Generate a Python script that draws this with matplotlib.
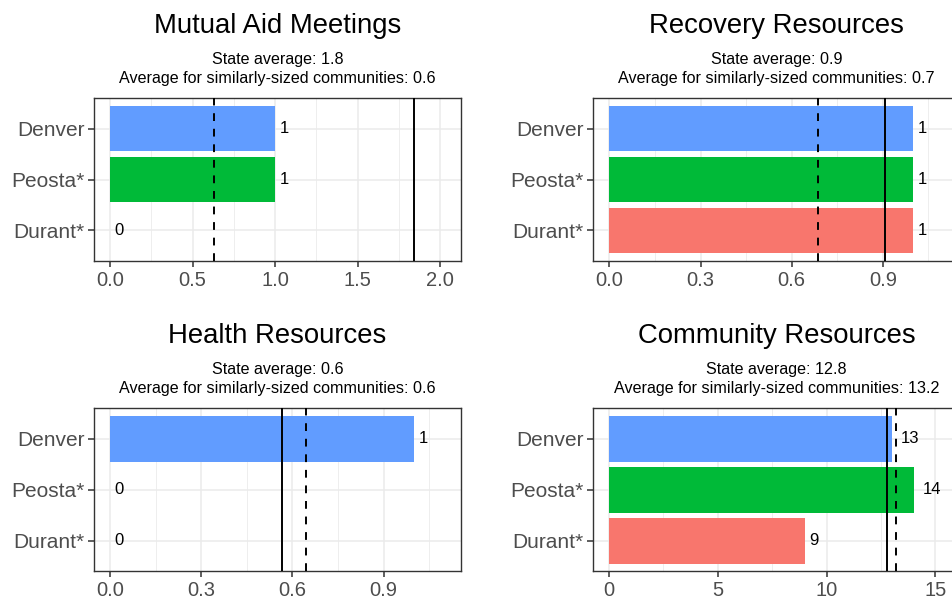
import matplotlib
matplotlib.use("Agg")
import matplotlib.pyplot as plt
from matplotlib.ticker import MultipleLocator

plt.rcParams['font.family'] = ['Liberation Sans', 'DejaVu Sans']

# ---- data ----
communities = ["Denver", "Peosta*", "Durant*"]
colors = ["#619CFF", "#00BA38", "#F8766D"]

titles = ["Mutual Aid Meetings", "Recovery Resources", "Health Resources", "Community Resources"]
mutual_aid = [1, 1, 0]
recovery = [1, 1, 1]
health = [1, 0, 0]
community = [13, 14, 9]
values = [mutual_aid, recovery, health, community]

state_avg = [1.84, 0.907, 0.565, 12.79]
similar_avg = [0.628, 0.688, 0.645, 13.2]

x_major = [0.5, 0.3, 0.3, 5]
x_limits = [(-0.097, 2.127), (-0.053, 1.155), (-0.053, 1.155), (-0.72, 16.15)]
x_fmt = ["{:.1f}", "{:.1f}", "{:.1f}", "{:.0f}"]

# ---- layout ----
W, H = 953, 602
fig = plt.figure(figsize=(W / 100, H / 100), dpi=100)

px = lambda v: v / W
py = lambda v: v / H
panel_w = 367
panel_h = 163
lefts = [94, 593.3, 94, 593.3]
tops = [98, 98, 408.3, 408.3]

grid_c = "#EBEBEB"
border_c = "#333333"
PT = 0.72  # points per pixel at dpi 100

for i in range(4):
    l, t = lefts[i], tops[i]
    ax = fig.add_axes([px(l), 1 - py(t + panel_h), px(panel_w), py(panel_h)])
    n = len(communities)
    ypos = [n - 1 - k for k in range(n)]  # Denver at top
    ax.barh(ypos, values[i], height=0.9, color=colors, zorder=2)
    ax.set_ylim(-0.6, n - 1 + 0.6)
    ax.set_xlim(*x_limits[i])
    ax.xaxis.set_major_locator(MultipleLocator(x_major[i]))
    ax.xaxis.set_minor_locator(MultipleLocator(x_major[i] / 2))
    ticks = [v for v in ax.get_xticks() if x_limits[i][0] <= v <= x_limits[i][1]]
    ax.set_xticks(ticks)
    ax.set_xticklabels([x_fmt[i].format(v) for v in ticks])
    ax.set_yticks(ypos)
    ax.set_yticklabels(communities)
    ax.grid(True, which="major", color=grid_c, lw=1.1, zorder=0)
    ax.grid(True, which="minor", axis="x", color=grid_c, lw=0.6, zorder=0)
    ax.set_axisbelow(True)
    ax.tick_params(axis="both", which="major", labelsize=14.5, labelcolor="#4D4D4D",
                   color=border_c, length=4, width=1.1, pad=3)
    ax.tick_params(axis="x", which="minor", length=0)
    ax.tick_params(axis="y", labelsize=15)
    for s in ax.spines.values():
        s.set_color(border_c)
        s.set_linewidth(1.0)

    # reference lines
    ax.axvline(state_avg[i], color="black", lw=1.4, zorder=3)
    ax.axvline(similar_avg[i], color="black", lw=1.4, ls=(0, (4, 4)), zorder=3)

    # value labels (hjust = -0.5)
    fs = 12
    for y, v in zip(ypos, values[i]):
        s = str(v)
        off = 0.5 * len(s) * 0.556 * fs
        ax.annotate(s, xy=(v, y), xytext=(off, 0), textcoords="offset points",
                    ha="left", va="center", fontsize=fs, color="black", zorder=4)

    # titles
    ax.annotate(titles[i], xy=(0.5, 1), xycoords="axes fraction",
                xytext=(0, 65 * PT), textcoords="offset points",
                ha="center", va="baseline", fontsize=19.8, color="black")
    ax.annotate("State average: {:.1f}".format(state_avg[i]), xy=(0.5, 1),
                xycoords="axes fraction", xytext=(0, 34 * PT), textcoords="offset points",
                ha="center", va="baseline", fontsize=11.6, color="black")
    ax.annotate("Average for similarly-sized communities: {:.1f}".format(similar_avg[i]),
                xy=(0.5, 1), xycoords="axes fraction", xytext=(0, 15.3 * PT),
                textcoords="offset points", ha="center", va="baseline",
                fontsize=11.6, color="black")

fig.savefig("out.png", dpi=100, facecolor="white")
